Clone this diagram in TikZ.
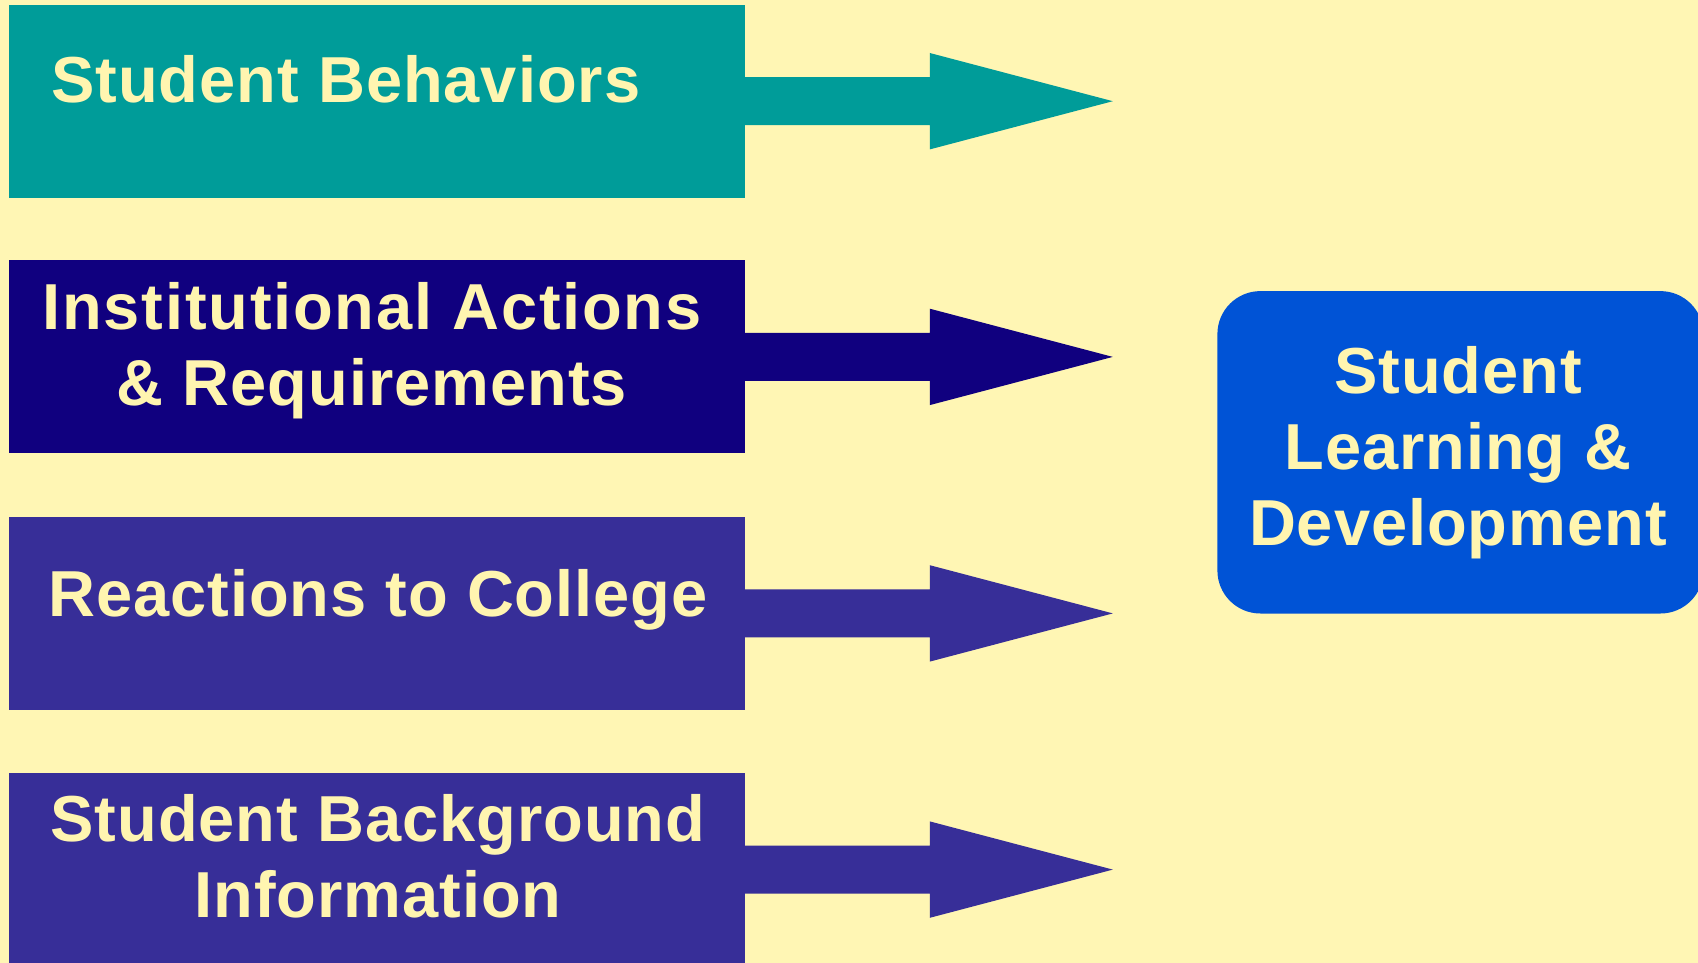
\documentclass[tikz,border=0pt]{standalone}
\usepackage{fontspec}
\setmainfont{Liberation Sans}
\newfontfamily\boxfont{Liberation Sans}[LetterSpace=1.5]
\newfontfamily\wideboxfont{Liberation Sans}[LetterSpace=2.8]
\usetikzlibrary{calc}
\definecolor{bgyellow}{HTML}{FFF6B4}
\definecolor{txtyellow}{HTML}{FFF5B0}
\definecolor{teal}{HTML}{009C99}
\definecolor{navy}{HTML}{10007F}
\definecolor{purp}{HTML}{372E98}
\definecolor{brightblue}{HTML}{0053D6}
\begin{document}
\begin{tikzpicture}[x=0.5pt,y=-0.5pt,
  inbox/.style={inner sep=0pt, minimum width=368pt, minimum height=96.5pt, anchor=north west, fill=#1},
  lbl/.style={text=txtyellow, font=\boxfont\bfseries\fontsize{32.5}{38}\selectfont, align=center, inner sep=0pt},
  blockarrow/.style={fill=#1}]
\useasboundingbox (0,0) rectangle (1698,963);
\fill[bgyellow] (0,0) rectangle (1698,963);
% boxes
\node[inbox=teal] (b1) at (9,4.3) {};
\node[inbox=navy] (b2) at (9,260) {};
\node[inbox=purp] (b3) at (9,516.5) {};
\node[inbox=purp] (b4) at (9,772.7) {};
% block arrows
\foreach \b/\c in {b1/teal, b2/navy, b3/purp, b4/purp}{
  \fill[blockarrow=\c] ($(\b.east)+(-3,-24)$) -- ++(187,0) -- ++(0,-24.2) -- ++(183,48.2) -- ++(-183,48.2) -- ++(0,-24.2) -- ++(-187,0) -- cycle;
}
% texts (base anchor = last line baseline)
\node[lbl, anchor=base west] (t1) at (51,102.7) {Student Behaviors};
\node[lbl, anchor=base] (t2) at (372,405) {{\wideboxfont Institutional Actions}\\\& Requirements};
\node[lbl, anchor=base] (t3) at (378,616) {Reactions to College};
\node[lbl, anchor=base] (t4) at (378,917.7) {Student Background\\Information};
% right box
\node[fill=brightblue, rounded corners=21.5pt, inner sep=0pt, minimum width=243pt, minimum height=161.2pt, anchor=north west] (out) at (1217,290.7) {};
\node[lbl, anchor=base] (tout) at (1458,545.7) {Student\\Learning \&\\Development};
\end{tikzpicture}
\end{document}
